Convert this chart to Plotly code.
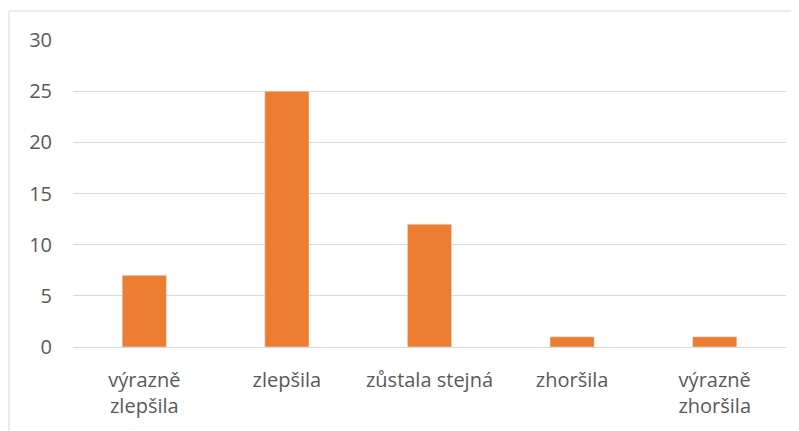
import plotly.graph_objects as go

categories = ["výrazně<br>zlepšila", "zlepšila", "zůstala stejná", "zhoršila", "výrazně<br>zhoršila"]
values = [7, 25, 12, 1, 1]

fig = go.Figure(go.Bar(x=categories, y=values, marker_color="#ED7D31", width=0.31))

font = dict(family="Open Sans", size=20, color="#595959")

# page body has an 8px margin, so the figure is sized/offset to compensate
fig.update_layout(
    width=791, height=423,
    margin=dict(l=65, r=13, t=32, b=84),
    plot_bgcolor="white", paper_bgcolor="white",
    showlegend=False,
    font=font,
)
fig.update_yaxes(
    range=[0, 30], dtick=5, showgrid=True, gridcolor="#D9D9D9", gridwidth=1,
    zeroline=False, showline=False, ticklabelstandoff=20, tickfont=font,
)
fig.update_xaxes(
    showline=True, linecolor="#D9D9D9", linewidth=1, showgrid=False,
    ticklabelstandoff=15, tickfont=font,
)

# chart outline (cropped on right and bottom)
px_w, px_h = 791 - 65 - 13, 423 - 32 - 84
x_left = (1 - 65) / px_w
y_top = 1 + (32 - 3) / px_h
fig.add_shape(type="line", xref="paper", yref="paper", x0=x_left, x1=1.2, y0=y_top, y1=y_top,
              line=dict(color="#D9D9D9", width=1))
fig.add_shape(type="line", xref="paper", yref="paper", x0=x_left, x1=x_left, y0=-0.5, y1=y_top,
              line=dict(color="#D9D9D9", width=1))

fig.write_html("out.html")
